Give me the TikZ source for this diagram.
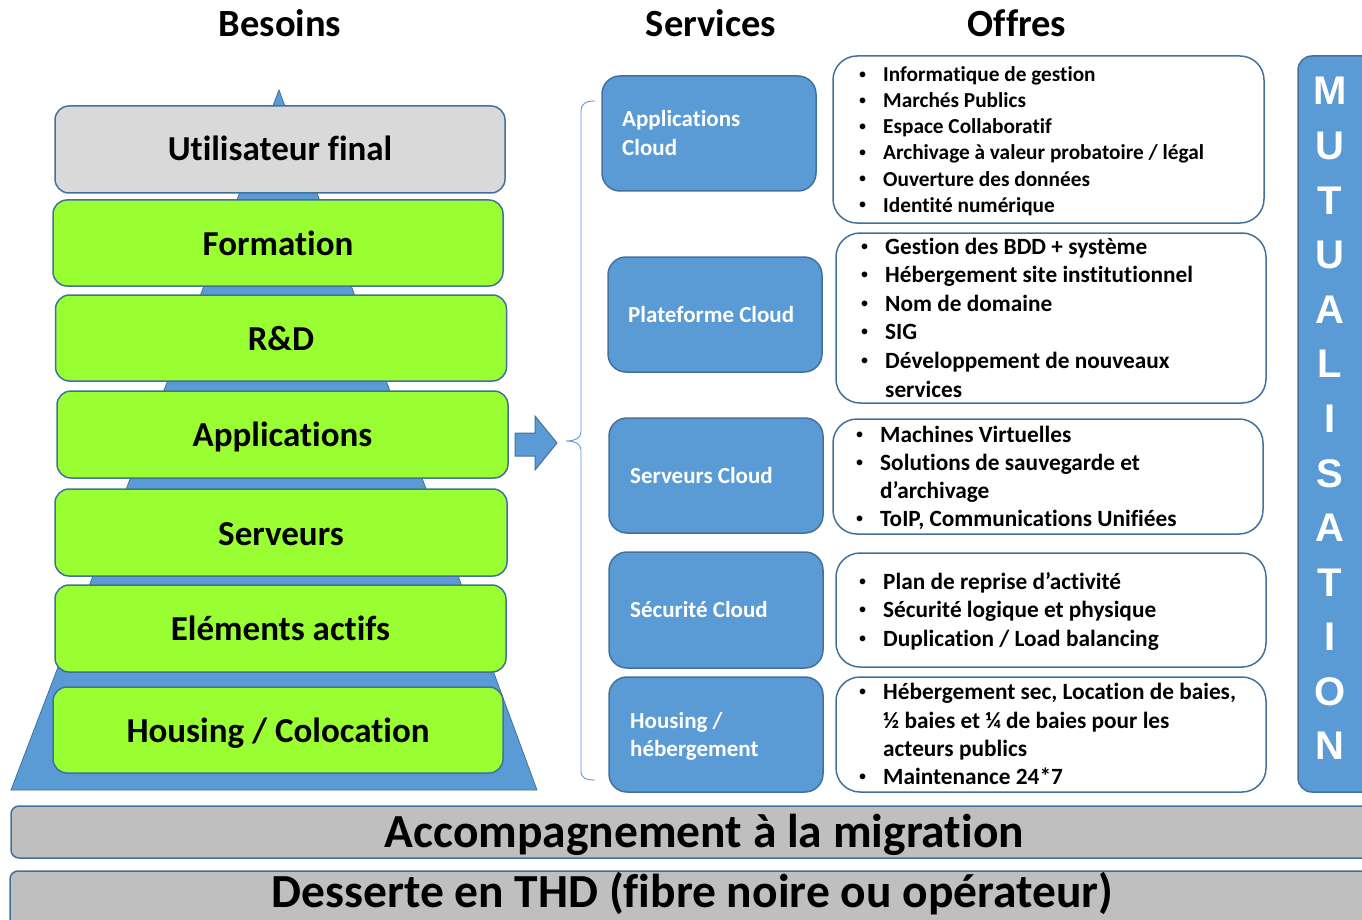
\documentclass[tikz,border=0pt]{standalone}
\usepackage{fontspec}
\setmainfont{Carlito}[Ligatures={NoCommon}]
\newfontfamily\mutfont{Liberation Sans}
\definecolor{cblue}{HTML}{5B9BD5}
\definecolor{cborder}{HTML}{41719C}
\definecolor{cgreen}{HTML}{99FF33}
\definecolor{cgrayA}{HTML}{D9D9D9}
\definecolor{cgrayB}{HTML}{BFBFBF}
\newcommand{\obul}{\llap{\raisebox{0.5pt}{\mutfont\fontsize{20}{20}\selectfont\textbullet}\hspace{17pt}}}
\begin{document}
\begin{tikzpicture}[x=1pt,y=-1pt,
  needbox/.style={draw=cborder, line width=1.5pt, rounded corners=14pt, fill=cgreen, inner sep=0},
  needtxt/.style={font=\fontsize{35}{42}\selectfont\bfseries, anchor=base, inner sep=0},
  head/.style={font=\fontsize{38.5}{46}\selectfont\bfseries, anchor=base, inner sep=0},
  svcbox/.style={draw=cborder, line width=1.5pt, fill=cblue, rounded corners=18pt, inner sep=0, minimum width=214pt, minimum height=115pt},
  svctxt/.style={font=\fontsize{23}{29}\selectfont\bfseries, text=white, anchor=base west, inner sep=0},
  offbox/.style={draw=cborder, line width=1.5pt, fill=white, rounded corners=24pt, inner sep=0},
  offA/.style={font=\fontsize{21.3}{26}\selectfont\bfseries, anchor=base west, inner sep=0},
  offB/.style={font=\fontsize{23.3}{28}\selectfont\bfseries, anchor=base west, inner sep=0},
  barbox/.style={draw=cborder, line width=1.5pt, fill=cgrayB, rounded corners=8pt, inner sep=0},
  bartxt/.style={font=\fontsize{47.5}{56}\selectfont\bfseries, anchor=base, inner sep=0},
  mutl/.style={font=\mutfont\fontsize{40}{48}\selectfont\bfseries, text=white, anchor=base, inner sep=0}
]
\useasboundingbox (0,0) rectangle (1362,920);
\clip (0,0) rectangle (1362,920);

% headings
\node[head] (hb) at (280,37) {Besoins};
\node[head] (hs) at (711,37) {Services};
\node[head] (ho) at (1017,37) {Offres};

% pyramid
\draw[fill=cblue, draw=cborder, line width=0.8pt] (279,90) -- (537,790) -- (11,790) -- cycle;

% need boxes
\node[needbox, fill=cgrayA, minimum width=450pt, minimum height=87pt] (n1) at (280,149.5) {};
\node[needbox, minimum width=450pt, minimum height=86pt] (n2) at (278,243) {};
\node[needbox, minimum width=451pt, minimum height=86pt] (n3) at (281,338) {};
\node[needbox, minimum width=451pt, minimum height=87pt] (n4) at (282.5,434.5) {};
\node[needbox, minimum width=452pt, minimum height=87pt] (n5) at (281,532.5) {};
\node[needbox, minimum width=451pt, minimum height=87pt] (n6) at (280.5,628.5) {};
\node[needbox, minimum width=450pt, minimum height=86pt] (n7) at (278,730) {};
\node[needtxt] (t1) at (280,161) {Utilisateur final};
\node[needtxt] (t2) at (278,255) {Formation};
\node[needtxt] (t3) at (281,350) {R\&D};
\node[needtxt] (t4) at (282.5,446) {Applications};
\node[needtxt] (t5) at (281,545) {Serveurs};
\node[needtxt] (t6) at (280.5,640) {Eléments actifs};
\node[needtxt] (t7) at (278,742) {Housing / Colocation};

% block arrow
\draw[fill=cblue, draw=cborder, line width=1pt] (515,433) -- (535,433) -- (535,416) -- (557,443) -- (535,470) -- (535,456) -- (515,456) -- cycle;

% brace
\draw[cblue, line width=0.9pt] (595,101) .. controls (586,101) and (581,103) .. (581,112) -- (581,432)
  .. controls (581,438) and (575,441) .. (566,441) .. controls (575,441) and (581,444) .. (581,450)
  -- (581,771) .. controls (581,778) and (586,780) .. (595,780);

% services
\node[svcbox] (s1) at (709,133.5) {};
\node[svcbox] (s2) at (715,314.5) {};
\node[svcbox] (s3) at (716,475.5) {};
\node[svcbox, minimum height=116pt] (s4) at (716,610) {};
\node[svcbox] (s5) at (716,734.5) {};
\node[svctxt] (s1a) at (622,127) {Applications};
\node[svctxt] (s1b) at (622,156) {Cloud};
\node[svctxt] (s2a) at (628,322) {Plateforme Cloud};
\node[svctxt] (s3a) at (630,483) {Serveurs Cloud};
\node[svctxt] (s4a) at (630,617) {Sécurité Cloud};
\node[svctxt] (s5a) at (630,728) {Housing /};
\node[svctxt] (s5b) at (630,756) {hébergement};

% offers
\node[offbox, minimum width=431pt, minimum height=167pt] (o1) at (1048.5,139.5) {};
\node[offbox, minimum width=430pt, minimum height=170pt] (o2) at (1051,318) {};
\node[offbox, minimum width=430pt, minimum height=115pt] (o3) at (1048,476.5) {};
\node[offbox, minimum width=430pt, minimum height=114pt] (o4) at (1051,610) {};
\node[offbox, minimum width=430pt, minimum height=115pt] (o5) at (1051,734.5) {};

\node[offA] (o1a) at (883,82) {\obul Informatique de gestion};
\node[offA] (o1b) at (883,108) {\obul Marchés Publics};
\node[offA] (o1c) at (883,134) {\obul Espace Collaboratif};
\node[offA] (o1d) at (883,160) {\obul Archivage à valeur probatoire / légal};
\node[offA] (o1e) at (883,186) {\obul Ouverture des données};
\node[offA] (o1f) at (883,212) {\obul Identité numérique};

\node[offB] (o2a) at (885,254) {\obul Gestion des BDD + système};
\node[offB] (o2b) at (885,282) {\obul Hébergement site institutionnel};
\node[offB] (o2c) at (885,311) {\obul Nom de domaine};
\node[offB] (o2d) at (885,339) {\obul SIG};
\node[offB] (o2e) at (885,368) {\obul Développement de nouveaux};
\node[offB] (o2f) at (885,397) {services};

\node[offB] (o3a) at (880,442) {\obul Machines Virtuelles};
\node[offB] (o3b) at (880,470) {\obul Solutions de sauvegarde et};
\node[offB] (o3c) at (880,498) {d’archivage};
\node[offB] (o3d) at (880,526) {\obul ToIP, Communications Unifiées};

\node[offB] (o4a) at (883,589) {\obul Plan de reprise d’activité};
\node[offB] (o4b) at (883,617) {\obul Sécurité logique et physique};
\node[offB] (o4c) at (883,646) {\obul Duplication / Load balancing};

\node[offB] (o5a) at (883,699) {\obul Hébergement sec, Location de baies,};
\node[offB] (o5b) at (883,728) {½ baies et ¼ de baies pour les};
\node[offB] (o5c) at (883,756) {acteurs publics};
\node[offB] (o5d) at (883,784) {\obul Maintenance 24*7};

% mutualisation
\node[draw=cborder, line width=1.5pt, fill=cblue, rounded corners=14pt, inner sep=0, minimum width=110pt, minimum height=736pt] (mut) at (1353,424) {};
\foreach \l [count=\k from 0] in {M,U,T,U,A,L,I,S,A,T,I,O,N}
  \node[mutl] (m\k) at (1330,{105+54.58*\k}) {\l};

% bottom bars
\node[barbox, minimum width=1420pt, minimum height=52pt] (acc) at (721,832) {};
\node[bartxt] (acct) at (704.5,847) {Accompagnement à la migration};
\node[barbox, minimum width=1420pt, minimum height=90pt] (des) at (720,916) {};
\node[bartxt] (dest) at (692.5,907) {Desserte en THD (fibre noire ou opérateur)};
\end{tikzpicture}
\end{document}
